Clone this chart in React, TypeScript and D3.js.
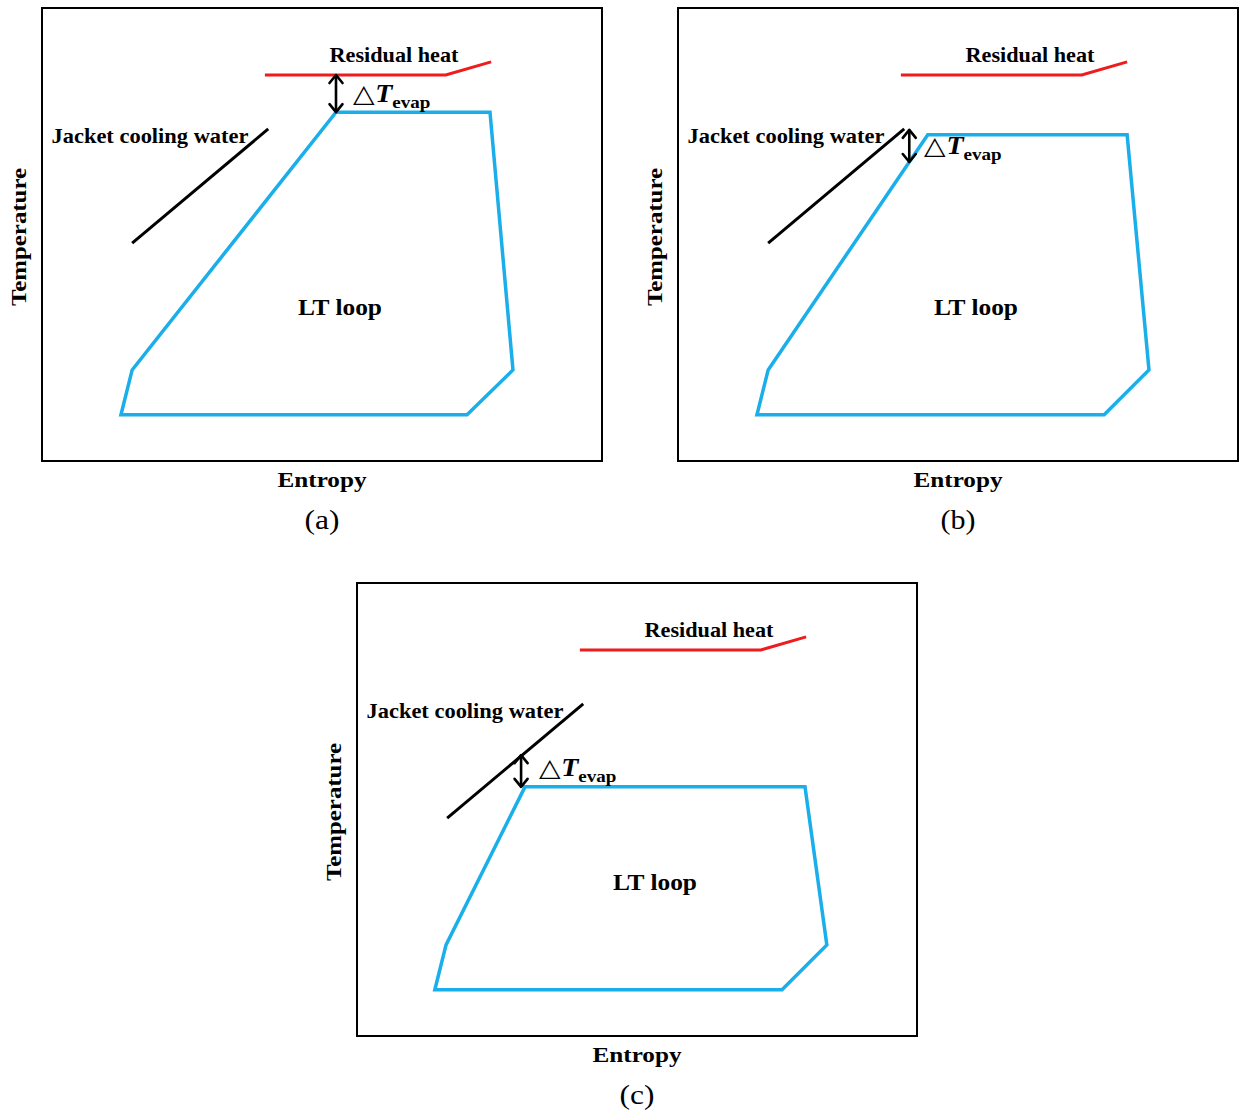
import React from "react";
import * as d3 from "d3";

// Schematic T–s diagrams, values in arbitrary units (0–100 on each axis)
const panelIds = ["a", "b", "c"];

// LT loop cycle outline (entropy, temperature) for each case
const loopA: [number, number][] = [[14.1, 10.2], [16.1, 20.1], [52.5, 77.0], [80.0, 77.0], [84.1, 20.1], [75.9, 10.2]];
const loopB: [number, number][] = [[14.1, 10.2], [16.1, 20.1], [44.6, 72.0], [80.2, 72.0], [84.1, 20.1], [76.1, 10.2]];
const loopC: [number, number][] = [[13.9, 10.2], [15.9, 20.1], [30.0, 55.0], [80.0, 55.0], [83.9, 20.1], [75.9, 10.2]];

// Jacket cooling water line
const jacketLine: [number, number][] = [[16.1, 48.1], [40.4, 73.3]];
// Residual heat line
const residualLine: [number, number][] = [[39.8, 85.2], [72.1, 85.2], [80.2, 88.1]];

// ΔT_evap arrows: entropy, lower temperature, upper temperature
const arrowX = [52.5, 41.3, 29.3];
const arrowLow = [77.0, 66.0, 55.0];
const arrowHigh = [85.2, 73.1, 62.0];

const loops = [loopA, loopB, loopC];

const W = 560;
const H = 453;
const FONT = "'Liberation Serif', 'Times New Roman', serif";

function Arrow({ x, y1, y2 }: { x: number; y1: number; y2: number }) {
  const h = 8;
  const w = 6.5;
  return (
    <g stroke="#000" strokeWidth={2.6} fill="none" strokeLinecap="round" strokeLinejoin="round">
      <line x1={x} y1={y1 + 1} x2={x} y2={y2 - 1} />
      <polyline points={`${x - w},${y1 + h} ${x},${y1} ${x + w},${y1 + h}`} />
      <polyline points={`${x - w},${y2 - h} ${x},${y2} ${x + w},${y2 - h}`} />
    </g>
  );
}

function Panel({ idx, ox, oy }: { idx: number; ox: number; oy: number }) {
  const x = d3.scaleLinear().domain([0, 100]).range([0, W]);
  const y = d3.scaleLinear().domain([0, 100]).range([H, 0]);
  const line = d3.line<[number, number]>().x((d) => x(d[0])).y((d) => y(d[1]));
  const loop = loops[idx];
  const ax = x(arrowX[idx]);
  const ay1 = y(arrowHigh[idx]);
  const ay2 = y(arrowLow[idx]);
  const dtX = idx === 0 ? ax + 17 : idx === 1 ? ax + 15 : ax + 18;
  const dtY = idx === 0 ? y(arrowLow[idx]) - 10 : idx === 1 ? (ay1 + ay2) / 2 + 8 : (ay1 + ay2) / 2 + 5;
  return (
    <g transform={`translate(${ox},${oy})`}>
      <rect x={0} y={0} width={W} height={H} fill="none" stroke="#000" strokeWidth={2} />
      <path d={line(loop)! + "Z"} fill="none" stroke="#1aaeea" strokeWidth={3.5} strokeLinejoin="miter" />
      <path d={line(jacketLine)!} fill="none" stroke="#000" strokeWidth={3} />
      <path d={line(residualLine)!} fill="none" stroke="#ee1c1c" strokeWidth={3} />
      <Arrow x={ax} y1={ay1} y2={ay2} />
      <text x={352} y={54} textAnchor="middle" fontFamily={FONT} fontWeight="bold" fontSize={21}
        textLength={129} lengthAdjust="spacingAndGlyphs">Residual heat</text>
      <text x={108} y={135} textAnchor="middle" fontFamily={FONT} fontWeight="bold" fontSize={21}
        textLength={197} lengthAdjust="spacingAndGlyphs">Jacket cooling water</text>
      <text x={298} y={307} textAnchor="middle" fontFamily={FONT} fontWeight="bold" fontSize={23}
        textLength={84} lengthAdjust="spacingAndGlyphs">LT loop</text>
      <g transform={`translate(${dtX},${dtY}) scale(1.12,1)`}>
        <text x={0} y={0} fontFamily={FONT} fontSize={25}>
          <tspan>△</tspan>
          <tspan fontStyle="italic" fontWeight="bold">T</tspan>
          <tspan fontWeight="bold" fontSize={17} dy={6}>evap</tspan>
        </text>
      </g>
      <text x={W / 2} y={H + 26} textAnchor="middle" fontFamily={FONT} fontWeight="bold" fontSize={22}
        textLength={89} lengthAdjust="spacingAndGlyphs">Entropy</text>
      <text transform={`translate(${-16},${229}) rotate(-90)`} textAnchor="middle" fontFamily={FONT} fontWeight="bold" fontSize={22}
        textLength={138} lengthAdjust="spacingAndGlyphs">Temperature</text>
      <text x={W / 2} y={H + 68} textAnchor="middle" fontFamily={FONT} fontSize={27}
        textLength={35} lengthAdjust="spacingAndGlyphs">({panelIds[idx]})</text>
    </g>
  );
}

export default function App() {
  return (
    <svg width={1239} height={1112} style={{ position: "absolute", left: 0, top: 0, background: "#fff" }}>
      <rect width={1239} height={1112} fill="#fff" />
      <Panel idx={0} ox={42} oy={8} />
      <Panel idx={1} ox={678} oy={8} />
      <Panel idx={2} ox={357} oy={583} />
    </svg>
  );
}
